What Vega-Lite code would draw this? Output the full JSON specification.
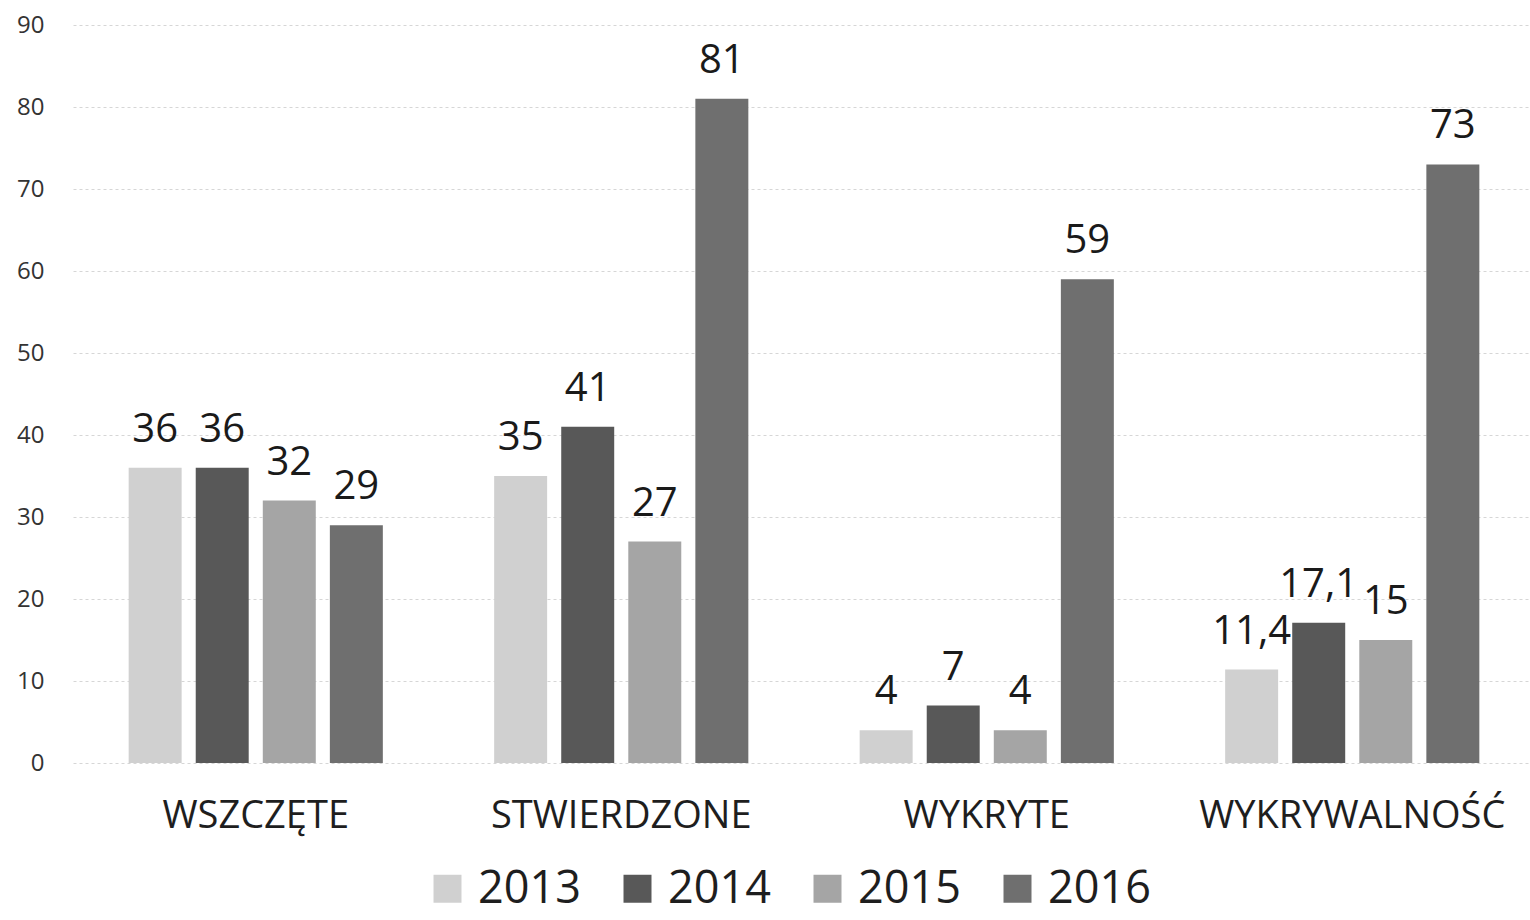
{
  "$schema": "https://vega.github.io/schema/vega-lite/v6.json",
  "autosize": {"type": "none"},
  "width": 1462,
  "height": 738,
  "padding": {"left": 73, "top": 25, "right": 0, "bottom": 157},
  "background": "white",
  "config": {
    "font": "Open Sans",
    "view": {"stroke": null},
    "locale": {"number": {"decimal": ",", "thousands": " ", "grouping": [3], "currency": ["", " zł"]}}
  },
  "data": {
    "values": [
      {"kategoria": "WSZCZĘTE", "rok": "2013", "wartosc": 36},
      {"kategoria": "WSZCZĘTE", "rok": "2014", "wartosc": 36},
      {"kategoria": "WSZCZĘTE", "rok": "2015", "wartosc": 32},
      {"kategoria": "WSZCZĘTE", "rok": "2016", "wartosc": 29},
      {"kategoria": "STWIERDZONE", "rok": "2013", "wartosc": 35},
      {"kategoria": "STWIERDZONE", "rok": "2014", "wartosc": 41},
      {"kategoria": "STWIERDZONE", "rok": "2015", "wartosc": 27},
      {"kategoria": "STWIERDZONE", "rok": "2016", "wartosc": 81},
      {"kategoria": "WYKRYTE", "rok": "2013", "wartosc": 4},
      {"kategoria": "WYKRYTE", "rok": "2014", "wartosc": 7},
      {"kategoria": "WYKRYTE", "rok": "2015", "wartosc": 4},
      {"kategoria": "WYKRYTE", "rok": "2016", "wartosc": 59},
      {"kategoria": "WYKRYWALNOŚĆ", "rok": "2013", "wartosc": 11.4},
      {"kategoria": "WYKRYWALNOŚĆ", "rok": "2014", "wartosc": 17.1},
      {"kategoria": "WYKRYWALNOŚĆ", "rok": "2015", "wartosc": 15},
      {"kategoria": "WYKRYWALNOŚĆ", "rok": "2016", "wartosc": 73}
    ]
  },
  "encoding": {
    "x": {
      "field": "kategoria",
      "type": "nominal",
      "sort": ["WSZCZĘTE", "STWIERDZONE", "WYKRYTE", "WYKRYWALNOŚĆ"],
      "scale": {"paddingInner": 0, "paddingOuter": 0},
      "axis": {
        "title": null,
        "domain": false,
        "ticks": false,
        "labelAngle": 0,
        "labelFontSize": 38,
        "labelFontWeight": 500,
        "labelColor": "#1e1e1e",
        "labelPadding": 34,
        "labelBaseline": "top",
        "labelLimit": 0
      }
    },
    "xOffset": {
      "field": "rok",
      "type": "nominal",
      "scale": {"paddingInner": 0.21, "paddingOuter": 0.83}
    },
    "y": {
      "field": "wartosc",
      "type": "quantitative",
      "scale": {"domain": [0, 90], "nice": false},
      "axis": {
        "title": null,
        "domain": false,
        "ticks": false,
        "values": [0, 10, 20, 30, 40, 50, 60, 70, 80, 90],
        "labelFontSize": 24,
        "labelColor": "#333333",
        "labelPadding": 29,
        "gridColor": "#d6d6d6",
        "gridDash": [3, 3],
        "gridWidth": 1
      }
    }
  },
  "layer": [
    {
      "mark": {"type": "bar"},
      "encoding": {
        "color": {
          "field": "rok",
          "type": "nominal",
          "scale": {
            "domain": ["2013", "2014", "2015", "2016"],
            "range": ["#d0d0d0", "#585858", "#a5a5a5", "#6f6f6f"]
          },
          "legend": {
            "title": null,
            "orient": "none",
            "legendX": 352,
            "legendY": 841,
            "direction": "horizontal",
            "symbolType": "square",
            "symbolSize": 784,
            "symbolStrokeWidth": 0,
            "labelFontSize": 45,
            "labelFontWeight": 500,
            "labelColor": "#1e1e1e",
            "labelOffset": 8,
            "columnPadding": 34
          }
        }
      }
    },
    {
      "mark": {"type": "text", "baseline": "alphabetic", "dy": -26, "fontSize": 40, "fontWeight": 500, "color": "#1a1a1a"},
      "encoding": {
        "text": {"field": "wartosc", "type": "quantitative", "format": "~g"}
      }
    }
  ]
}
